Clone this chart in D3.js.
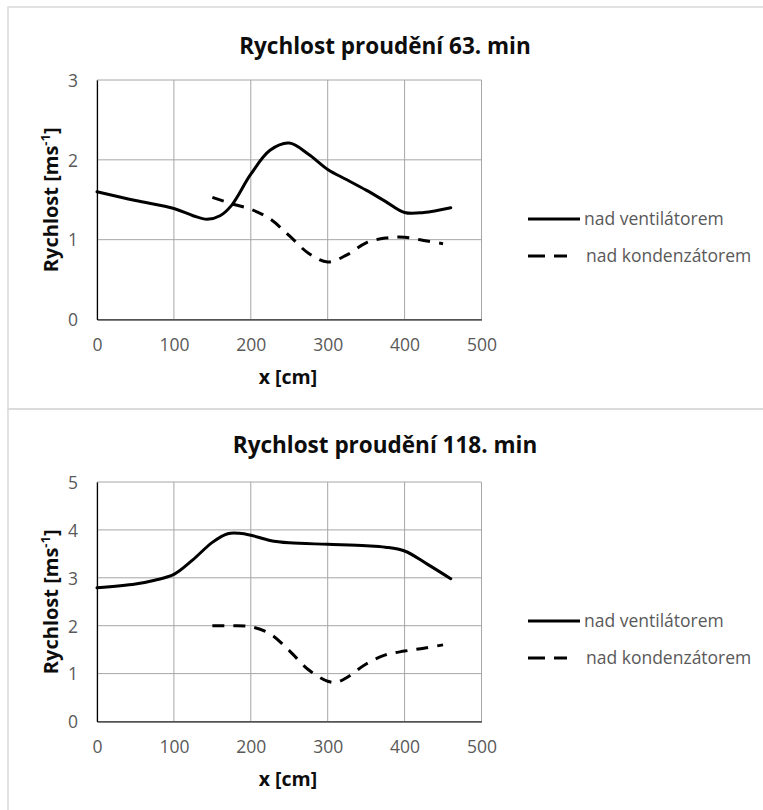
<!DOCTYPE html>
<html>
<head>
<meta charset="utf-8">
<script src="https://cdn.jsdelivr.net/npm/d3@7"></script>
<style>
  html, body { margin: 0; padding: 0; background: #fff; }
  svg { display: block; }
  text { font-family: "Open Sans", "DejaVu Sans", sans-serif; }
</style>
</head>
<body>
<svg id="chart" width="763" height="810"></svg>
<script>
// ---------- DATA ----------
const xTicks = [0, 100, 200, 300, 400, 500];

const title1 = "Rychlost proudění 63. min";
const yTicks1 = [0, 1, 2, 3];
const ventilator1 = [
  [0, 1.60], [50, 1.49], [100, 1.39], [125, 1.30], [143, 1.255], [160, 1.30],
  [175, 1.43], [200, 1.82], [225, 2.12], [250, 2.21], [275, 2.07], [300, 1.88],
  [325, 1.75], [350, 1.62], [375, 1.48], [400, 1.34], [425, 1.34], [460, 1.40]
];
const kondenzator1 = [
  [150, 1.53], [175, 1.45], [200, 1.38], [225, 1.26], [250, 1.05], [275, 0.83],
  [300, 0.72], [325, 0.81], [350, 0.96], [375, 1.02], [400, 1.03], [425, 0.99],
  [450, 0.95]
];

const title2 = "Rychlost proudění 118. min";
const yTicks2 = [0, 1, 2, 3, 4, 5];
const ventilator2 = [
  [0, 2.79], [50, 2.87], [75, 2.95], [100, 3.07], [125, 3.38], [150, 3.74],
  [170, 3.92], [185, 3.93], [200, 3.89], [225, 3.78], [250, 3.73], [300, 3.70],
  [350, 3.67], [375, 3.64], [400, 3.56], [430, 3.28], [460, 2.98]
];
const kondenzator2 = [
  [150, 2.00], [175, 2.00], [200, 1.98], [225, 1.83], [250, 1.48], [275, 1.08],
  [300, 0.84], [312, 0.82], [325, 0.92], [350, 1.20], [375, 1.39], [400, 1.47],
  [425, 1.53], [450, 1.60]
];

const legendLabels = ["nad ventilátorem", "nad kondenzátorem"];
const xTitle = "x [cm]";

// ---------- DRAW ----------
const svg = d3.select("#chart");
svg.append("rect").attr("width", 763).attr("height", 810).attr("fill", "#fff");

const panels = [
  { oy: 7, h: 402, titleY: 47, title: title1, yTicks: yTicks1, solid: ventilator1, dashed: kondenzator1 },
  { oy: 409, h: 410, titleY: 43.5, title: title2, yTicks: yTicks2, solid: ventilator2, dashed: kondenzator2 }
];

panels.forEach(p => {
  const g = svg.append("g").attr("transform", `translate(0,${p.oy})`);
  g.append("rect").attr("x", 8).attr("y", 0).attr("width", 770).attr("height", p.h)
    .attr("fill", "none").attr("stroke", "#d9d9d9").attr("stroke-width", 1.5);

  const x = d3.scaleLinear().domain([0, 500]).range([97, 481.5]);
  const yMax = p.yTicks[p.yTicks.length - 1];
  const y = d3.scaleLinear().domain([0, yMax]).range([312.5, 73]);

  // grid
  const grid = g.append("g").attr("stroke", "#a6a6a6").attr("stroke-width", 1);
  p.yTicks.forEach(t => grid.append("line")
    .attr("x1", x(0)).attr("x2", x(500)).attr("y1", y(t)).attr("y2", y(t)));
  xTicks.forEach(t => grid.append("line")
    .attr("x1", x(t)).attr("x2", x(t)).attr("y1", y(0)).attr("y2", y(yMax)));

  // axes
  const xAxis = g.append("g").attr("transform", `translate(0,${y(0)})`)
    .call(d3.axisBottom(x).tickValues(xTicks).tickSize(0).tickPadding(0).tickFormat(d3.format("d")));
  xAxis.select(".domain").attr("stroke", "#000").attr("stroke-width", 1.2);
  xAxis.selectAll("text").attr("dy", null).attr("y", 31.5)
    .attr("font-size", "17.5px").attr("fill", "#595959").attr("font-family", "Open Sans");

  const yAxis = g.append("g").attr("transform", `translate(${x(0)},0)`)
    .call(d3.axisLeft(y).tickValues(p.yTicks).tickSize(0).tickPadding(0).tickFormat(d3.format("d")));
  yAxis.select(".domain").attr("stroke", "#000").attr("stroke-width", 1.2);
  yAxis.selectAll("text").attr("dy", null).attr("x", -19).attr("y", 6.3)
    .attr("font-size", "17.5px").attr("fill", "#595959").attr("font-family", "Open Sans");

  // lines
  const line = d3.line().x(d => x(d[0])).y(d => y(d[1])).curve(d3.curveCatmullRom.alpha(0.5));
  g.append("path").datum(p.solid).attr("d", line)
    .attr("fill", "none").attr("stroke", "#000").attr("stroke-width", 3)
    .attr("stroke-linejoin", "round").attr("stroke-linecap", "round");
  g.append("path").datum(p.dashed).attr("d", line)
    .attr("fill", "none").attr("stroke", "#000").attr("stroke-width", 3)
    .attr("stroke-dasharray", "12,9");

  // title
  g.append("text").attr("x", 385).attr("y", p.titleY).attr("text-anchor", "middle")
    .attr("font-size", "22.5px").attr("font-weight", "bold").attr("fill", "#0d0d0d")
    .text(p.title);

  // x title
  g.append("text").attr("x", 288).attr("y", 377).attr("text-anchor", "middle")
    .attr("font-size", "19.5px").attr("font-weight", "bold").attr("fill", "#0d0d0d")
    .text(xTitle);

  // y title
  const yt = g.append("text")
    .attr("transform", `translate(58,${(y(0) + y(yMax)) / 2}) rotate(-90)`)
    .attr("text-anchor", "middle")
    .attr("font-size", "20px").attr("font-weight", "bold").attr("fill", "#0d0d0d");
  yt.append("tspan").text("Rychlost [ms");
  yt.append("tspan").attr("font-size", "13px").attr("dy", -8).text("-1");
  yt.append("tspan").attr("dy", 8).text("]");

  // legend
  const lg = g.append("g");
  lg.append("line").attr("x1", 528).attr("x2", 580).attr("y1", 212).attr("y2", 212)
    .attr("stroke", "#000").attr("stroke-width", 3);
  lg.append("text").attr("x", 584).attr("y", 218).attr("font-size", "17.5px")
    .attr("fill", "#595959").text(legendLabels[0]);
  lg.append("line").attr("x1", 528).attr("x2", 567).attr("y1", 249).attr("y2", 249)
    .attr("stroke", "#000").attr("stroke-width", 3).attr("stroke-dasharray", "17,9");
  lg.append("text").attr("x", 586).attr("y", 255).attr("font-size", "17.5px")
    .attr("fill", "#595959").text(legendLabels[1]);
});
</script>
</body>
</html>
